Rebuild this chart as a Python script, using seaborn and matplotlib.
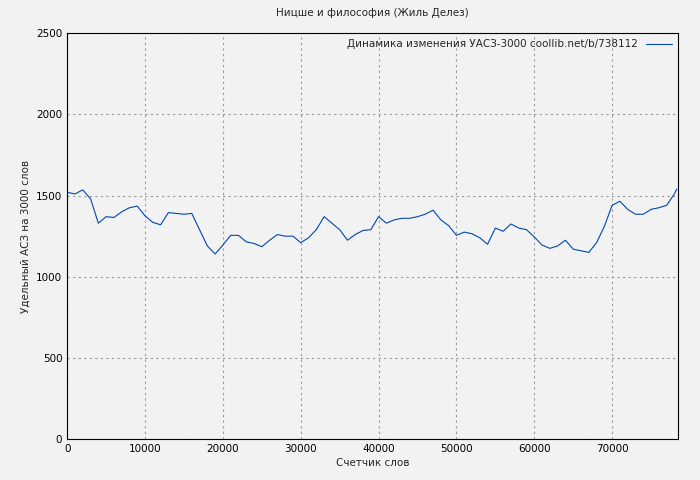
import numpy as np
import pandas as pd
import matplotlib
matplotlib.use('Agg')
import matplotlib.pyplot as plt
import seaborn as sns

words = list(range(0, 79000, 1000)) + [78300]
values = [1520, 1510, 1535, 1480, 1330, 1370, 1365, 1400, 1425, 1435,
          1375, 1335, 1320, 1395, 1390, 1385, 1390, 1290, 1190, 1140,
          1195, 1255, 1255, 1215, 1205, 1185, 1225, 1260, 1250, 1250,
          1210, 1240, 1290, 1370, 1330, 1290, 1225, 1260, 1285, 1290,
          1370, 1330, 1350, 1360, 1360, 1370, 1385, 1410, 1350, 1315,
          1255, 1275, 1265, 1240, 1200, 1300, 1280, 1325, 1300, 1290,
          1245, 1195, 1175, 1190, 1225, 1170, 1160, 1150, 1210, 1310,
          1440, 1465, 1415, 1385, 1385, 1415, 1425, 1440, 1510, 1540]
words = words[:len(values)]
df = pd.DataFrame({'words': words, 'value': values})

sns.set_style('white')
plt.rcParams['font.family'] = ['DejaVu Sans']
fig, ax = plt.subplots(figsize=(7, 4.8), dpi=100)
fig.patch.set_facecolor('#f2f2f2')
ax.set_facecolor('#f2f2f2')
fig.subplots_adjust(left=0.096, right=0.969, top=0.931, bottom=0.085)

sns.lineplot(data=df, x='words', y='value', ax=ax, color='#0047b3', linewidth=0.8,
             label='Динамика изменения УАСЗ-3000 coollib.net/b/738112')
ax.set_xlim(0, 78500)
ax.set_ylim(0, 2500)
ax.set_xticks(range(0, 80000, 10000))
ax.set_yticks(range(0, 2501, 500))
ax.grid(True, color='#999999', linestyle=(0, (2, 3)), linewidth=0.8)
for s in ax.spines.values():
    s.set_color('black')
ax.tick_params(direction='in', labelsize=7.5, length=4, colors='black')
ax.set_xlabel('Счетчик слов', fontsize=7.5, labelpad=3)
ax.set_ylabel('Удельный АСЗ на 3000 слов', fontsize=7.5)
ax.set_title('Ницше и философия (Жиль Делез)', fontsize=7.5, pad=12)
leg = ax.legend(loc='upper right', fontsize=7.5, frameon=False, markerfirst=False,
                handlelength=2.5, borderaxespad=0.2)
plt.savefig('out.png', dpi=100, facecolor=fig.get_facecolor())
